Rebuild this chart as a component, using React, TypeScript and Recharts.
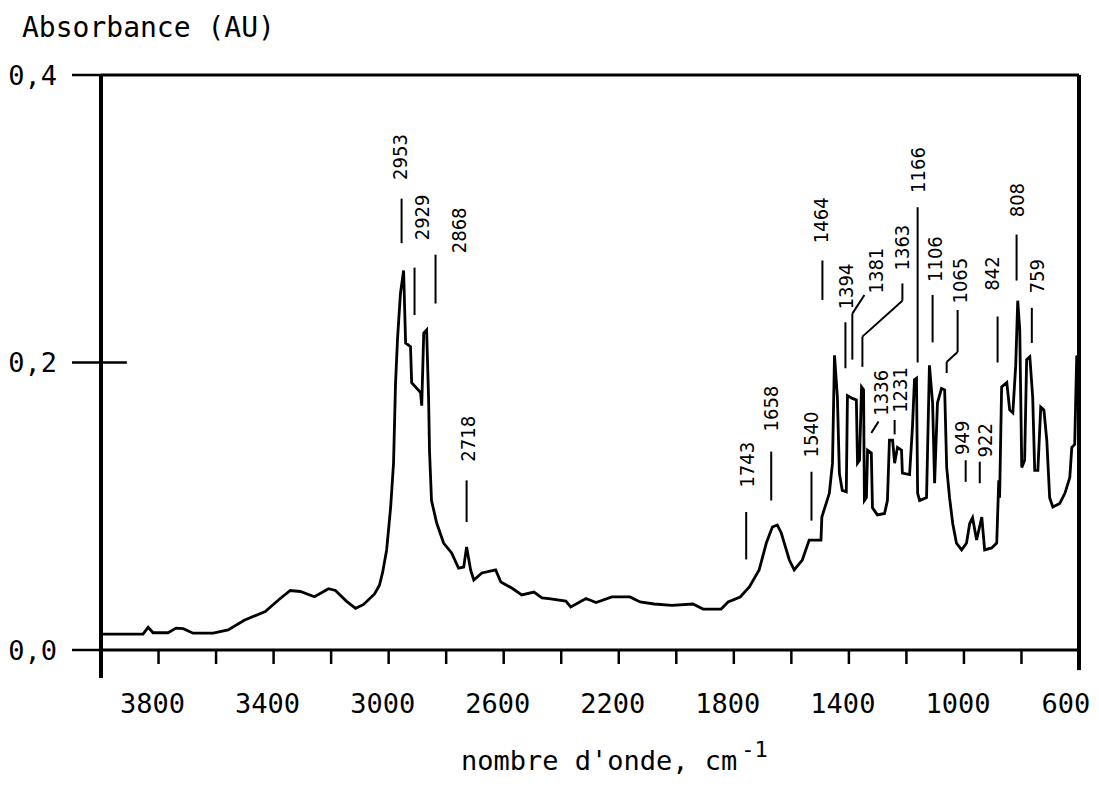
import React from 'react'
import {
  LineChart,
  Line,
  XAxis,
  YAxis,
  ReferenceLine,
  ReferenceDot,
} from 'recharts'

// IR spectrum, absorbance vs wavenumber (cm-1).

const WAVENUMBERS = [
  4000, 3854, 3836, 3819, 3767, 3739, 3714, 3680, 3610, 3558, 3502, 3429, 3380, 3342,
  3307, 3258, 3209, 3185, 3147, 3115, 3087, 3049, 3032, 3021, 3007, 2993, 2983, 2976,
  2969, 2959, 2948, 2941, 2924, 2920, 2889, 2885, 2878, 2868, 2861, 2858, 2851, 2833,
  2809, 2781, 2757, 2739, 2729, 2715, 2704, 2676, 2628, 2610, 2572, 2537, 2495, 2467,
  2443, 2384, 2367, 2314, 2279, 2224, 2161, 2126, 2077, 2015, 1942, 1907, 1844, 1820,
  1778, 1746, 1712, 1687, 1666, 1649, 1635, 1607, 1590, 1562, 1538, 1497, 1494, 1468,
  1457, 1450, 1440, 1433, 1423, 1409, 1405, 1388, 1374, 1370, 1363, 1356, 1349, 1346,
  1339, 1335, 1322, 1318, 1301, 1276, 1266, 1259, 1248, 1241, 1231, 1217, 1214, 1189,
  1179, 1172, 1165, 1161, 1154, 1130, 1120, 1109, 1102, 1092, 1078, 1067, 1060, 1050,
  1039, 1026, 1008, 991, 980, 970, 956, 938, 928, 904, 886, 879, 876, 869, 851, 841,
  830, 820, 813, 806, 799, 789, 782, 771, 761, 754, 743, 733, 722, 712, 702, 691, 667,
  649, 632, 625, 615, 608, 600,
]

const ABSORBANCE = [
  0.011, 0.011, 0.0158, 0.012, 0.012, 0.0152, 0.0148, 0.0117, 0.0117, 0.014, 0.0207,
  0.0268, 0.0353, 0.0414, 0.0407, 0.037, 0.0426, 0.0414, 0.034, 0.029, 0.0317, 0.039,
  0.045, 0.054, 0.0696, 0.0995, 0.13, 0.186, 0.217, 0.248, 0.264, 0.2136, 0.211, 0.186,
  0.179, 0.17, 0.2205, 0.2226, 0.174, 0.139, 0.104, 0.0883, 0.0744, 0.0675, 0.057,
  0.0577, 0.0717, 0.0557, 0.0487, 0.0536, 0.0557, 0.0473, 0.0431, 0.0383, 0.0403,
  0.0362, 0.0358, 0.034, 0.03, 0.0358, 0.033, 0.0369, 0.0369, 0.0334, 0.032, 0.031,
  0.032, 0.0285, 0.0285, 0.0334, 0.0369, 0.0438, 0.0557, 0.0744, 0.0856, 0.087, 0.0814,
  0.0626, 0.0557, 0.0626, 0.0765, 0.0765, 0.0925, 0.109, 0.13, 0.205, 0.176, 0.123,
  0.111, 0.11, 0.177, 0.175, 0.174, 0.13, 0.132, 0.183, 0.181, 0.104, 0.106, 0.139,
  0.137, 0.099, 0.094, 0.095, 0.104, 0.146, 0.146, 0.13, 0.141, 0.139, 0.123, 0.122,
  0.155, 0.188, 0.189, 0.109, 0.104, 0.106, 0.198, 0.172, 0.116, 0.172, 0.182, 0.181,
  0.127, 0.106, 0.088, 0.0744, 0.0696, 0.0744, 0.088, 0.092, 0.0765, 0.0925, 0.0696,
  0.071, 0.0744, 0.118, 0.106, 0.183, 0.186, 0.167, 0.165, 0.198, 0.243, 0.223, 0.127,
  0.132, 0.202, 0.204, 0.176, 0.125, 0.125, 0.169, 0.167, 0.146, 0.106, 0.0995, 0.102,
  0.109, 0.12, 0.141, 0.143, 0.204, 0.205,
]

const X_TICKS = [
  4000, 3800, 3600, 3400, 3200, 3000, 2800, 2600, 2400, 2200, 2000, 1800, 1600, 1400,
  1200, 1000, 800, 600,
]
const Y_TICKS = [0, 0.2, 0.4]

// peak annotations: text, where the text starts (wn, A), and its leader polyline
const PEAK_TEXT = [
  '2953', '2929', '2868', '2718', '1743', '1658', '1540', '1464', '1394', '1381', '1363',
  '1336', '1231', '1166', '1106', '1065', '949', '922', '842', '808', '759',
]
const PEAK_TEXT_WN = [
  2959, 2885, 2757, 2725, 1753, 1670, 1530, 1496, 1409, 1304, 1217, 1290, 1221, 1161,
  1102, 1012, 1008, 928, 904, 817, 747,
]
const PEAK_TEXT_ABS = [
  0.327, 0.285, 0.276, 0.131, 0.113, 0.152, 0.134, 0.283, 0.237, 0.248, 0.264, 0.163,
  0.165, 0.318, 0.256, 0.241, 0.1357, 0.134, 0.25, 0.301, 0.248,
]
const PEAK_LEADERS: number[][][] = [
  [[2955, 0.283], [2955, 0.314]],
  [[2910, 0.233], [2910, 0.266]],
  [[2837, 0.241], [2837, 0.275]],
  [[2729, 0.089], [2729, 0.118]],
  [[1757, 0.063], [1757, 0.096]],
  [[1670, 0.104], [1670, 0.138]],
  [[1530, 0.09], [1530, 0.124]],
  [[1492, 0.2435], [1492, 0.271]],
  [[1412, 0.196], [1412, 0.228]],
  [[1388, 0.202], [1388, 0.234], [1346, 0.247]],
  [[1353, 0.197], [1353, 0.218], [1214, 0.243], [1214, 0.255]],
  [[1322, 0.151], [1297, 0.159]],
  [[1241, 0.15], [1241, 0.16]],
  [[1161, 0.2], [1161, 0.308]],
  [[1109, 0.214], [1109, 0.247]],
  [[1060, 0.1927], [1060, 0.2003], [1022, 0.2073], [1022, 0.2365]],
  [[994, 0.117], [994, 0.132]],
  [[945, 0.116], [945, 0.131]],
  [[883, 0.2], [883, 0.232]],
  [[817, 0.257], [817, 0.289]],
  [[764, 0.2136], [764, 0.238]],
]

const data = WAVENUMBERS.map((wn, i) => ({ wn, a: ABSORBANCE[i] }))

const MONO = "'DejaVu Sans Mono', monospace"
const NARROW = "'DejaVu Sans Condensed', 'DejaVu Sans', sans-serif"

function PeakText(props: any) {
  const { cx, cy, text } = props
  return (
    <text
      x={cx}
      y={cy}
      transform={`rotate(-90 ${cx} ${cy})`}
      textAnchor="start"
      dominantBaseline="central"
      fontFamily={NARROW}
      fontSize={20}
      fill="#000"
    >
      {text}
    </text>
  )
}

// bottom tick labels sit a little left of their ticks in the original
function XTick(props: any) {
  const { x, y, payload } = props
  const label = fmtX(payload.value)
  if (!label) return null
  const shift = payload.value === 600 ? -13 : -6
  return (
    <text
      x={x + shift}
      y={y}
      dy="0.71em"
      textAnchor="middle"
      fontFamily={MONO}
      fontSize={27}
      fill="#000"
    >
      {label}
    </text>
  )
}

function YTitle(props: any) {
  const { viewBox } = props
  return (
    <text x={viewBox.x + 14} y={viewBox.y - 38} fontFamily={MONO} fontSize={28} fill="#000">
      Absorbance (AU)
    </text>
  )
}

function XTitle(props: any) {
  const { viewBox } = props
  return (
    <text x={viewBox.x + 360} y={viewBox.y + 120} fontFamily={MONO} fontSize={27} fill="#000">
      nombre d'onde, cm
      <tspan dx={4} dy={-13} fontSize={22}>
        -1
      </tspan>
    </text>
  )
}

const fmtY = (v: number) => v.toFixed(1).replace('.', ',')
const fmtX = (v: number) => ((4000 - v) % 400 === 200 ? String(v) : '')

export default function App() {
  const segments: Array<{ key: string; seg: { x: number; y: number }[] }> = []
  PEAK_LEADERS.forEach((pts, i) => {
    for (let j = 0; j < pts.length - 1; j++) {
      segments.push({
        key: `${i}-${j}`,
        seg: [
          { x: pts[j][0], y: pts[j][1] },
          { x: pts[j + 1][0], y: pts[j + 1][1] },
        ],
      })
    }
  })

  return (
    <div style={{ width: 1091, height: 782, background: '#fff' }}>
      <LineChart
        width={1091}
        height={782}
        data={data}
        margin={{ top: 67, right: 0, bottom: 0, left: 0 }}
      >
        <XAxis
          dataKey="wn"
          type="number"
          domain={[600, 4000]}
          reversed
          ticks={X_TICKS}
          interval={0}
          height={140}
          tickSize={14}
          tickMargin={30}
          tick={(p: any) => <XTick {...p} />}
          tickLine={{ stroke: '#000', strokeWidth: 2.5 }}
          axisLine={{ stroke: '#000', strokeWidth: 3 }}
          label={<XTitle />}
        />
        <YAxis
          type="number"
          domain={[0, 0.4]}
          ticks={Y_TICKS}
          interval={0}
          tickFormatter={fmtY}
          width={93}
          tickSize={29}
          tickMargin={15}
          tick={{ fill: '#000', fontSize: 27, fontFamily: MONO }}
          tickLine={{ stroke: '#000', strokeWidth: 2.5 }}
          axisLine={{ stroke: '#000', strokeWidth: 4 }}
          label={<YTitle />}
        />
        <YAxis
          yAxisId="r"
          orientation="right"
          type="number"
          domain={[0, 0.4]}
          ticks={[0.2]}
          width={20}
          tickSize={18}
          tick={false}
          tickLine={{ stroke: '#000', strokeWidth: 2.5 }}
          axisLine={{ stroke: '#000', strokeWidth: 4 }}
        />

        {/* frame pieces */}
        <ReferenceLine y={0.4} stroke="#000" strokeWidth={3} />
        <ReferenceLine
          segment={[{ x: 4000, y: 0.2 }, { x: 3910, y: 0.2 }]}
          stroke="#000"
          strokeWidth={2.5}
        />
        <ReferenceLine
          segment={[{ x: 4000, y: 0 }, { x: 4000, y: -0.0195 }]}
          stroke="#000"
          strokeWidth={4}
          ifOverflow="visible"
        />
        <ReferenceLine
          segment={[{ x: 600, y: 0 }, { x: 600, y: -0.014 }]}
          stroke="#000"
          strokeWidth={4}
          ifOverflow="visible"
        />

        <Line
          type="linear"
          dataKey="a"
          stroke="#000"
          strokeWidth={2.8}
          dot={false}
          isAnimationActive={false}
        />

        {segments.map((s) => (
          <ReferenceLine key={s.key} segment={s.seg} stroke="#000" strokeWidth={2} />
        ))}
        {PEAK_TEXT.map((t, i) => (
          <ReferenceDot
            key={t}
            x={PEAK_TEXT_WN[i]}
            y={PEAK_TEXT_ABS[i]}
            r={0}
            shape={(p: any) => <PeakText {...p} text={t} />}
          />
        ))}
      </LineChart>
    </div>
  )
}
